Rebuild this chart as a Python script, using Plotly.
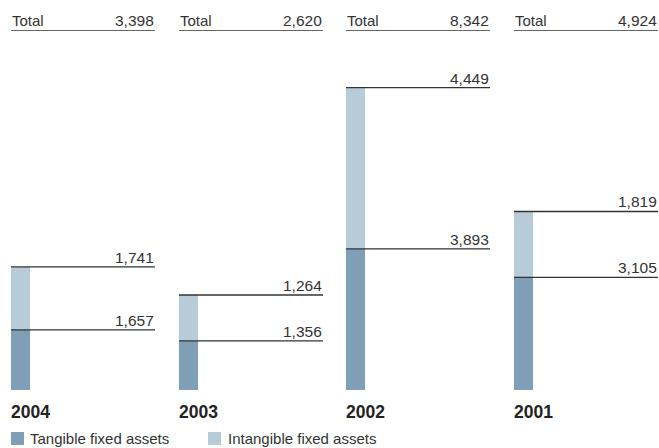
import plotly.graph_objects as go
from plotly.subplots import make_subplots

years = ["2004", "2003", "2002", "2001"]
tangible = [1657, 1356, 3893, 3105]
intangible = [1741, 1264, 4449, 1819]
totals = [3398, 2620, 8342, 4924]
series_names = ["Tangible fixed assets", "Intangible fixed assets"]

C_TAN = "#7f9fb6"
C_INT = "#b7cbd8"
C_LINE = "#333333"
FONT = "Liberation Sans, Arial, sans-serif"

W, H = 659, 448
top_px, bottom_px = 30, 390
plot_h = bottom_px - top_px
y_top = 9930                      # value at the header rule
panel_left = [11, 179, 346, 514]
panel_w = 144
bar_w = 19

fig = make_subplots(rows=1, cols=4)

def fmt(v):
    return f"{v:,}"

for i, yr in enumerate(years):
    col = i + 1
    xa = "x" if i == 0 else f"x{col}"
    ya = "y" if i == 0 else f"y{col}"
    fig.add_trace(go.Bar(x=[bar_w / 2], y=[tangible[i]], width=bar_w,
                         marker=dict(color=C_TAN, line=dict(width=0)),
                         name=series_names[0], showlegend=False, hoverinfo="skip"),
                  row=1, col=col)
    fig.add_trace(go.Bar(x=[bar_w / 2], y=[intangible[i]], width=bar_w,
                         marker=dict(color=C_INT, line=dict(width=0)),
                         name=series_names[1], showlegend=False, hoverinfo="skip"),
                  row=1, col=col)
    x0 = panel_left[i] / W
    x1 = (panel_left[i] + panel_w) / W
    fig.update_xaxes(domain=[x0, x1], range=[0, panel_w], visible=False,
                     fixedrange=True, row=1, col=col)
    fig.update_yaxes(range=[0, y_top], visible=False, row=1, col=col)

    # rules at each stack level, labelled with the segment value
    levels = [(tangible[i], tangible[i]), (tangible[i] + intangible[i], intangible[i])]
    for yv, lab in levels:
        fig.add_shape(type="line", xref=xa, yref=ya, x0=0, x1=panel_w, y0=yv, y1=yv,
                      line=dict(color=C_LINE, width=1.3))
        fig.add_annotation(xref=xa, yref=ya, x=panel_w, y=yv, text=fmt(lab),
                           showarrow=False, xanchor="right", yanchor="bottom",
                           yshift=-1, xshift=1,
                           font=dict(size=15.5, color=C_LINE, family=FONT))

    # header rule with total
    fig.add_shape(type="line", xref=xa, yref=ya, x0=0, x1=panel_w, y0=y_top, y1=y_top,
                  line=dict(color=C_LINE, width=1.3))
    fig.add_annotation(xref=xa, yref=ya, x=0, y=y_top, text="Total", showarrow=False,
                       xanchor="left", yanchor="bottom", yshift=-1, xshift=-1,
                       font=dict(size=15, color=C_LINE, family=FONT))
    fig.add_annotation(xref=xa, yref=ya, x=panel_w, y=y_top, text=fmt(totals[i]),
                       showarrow=False, xanchor="right", yanchor="bottom", yshift=-1,
                       xshift=1, font=dict(size=15.5, color=C_LINE, family=FONT))
    # year label
    fig.add_annotation(xref=xa, yref=ya, x=0, y=0, text=f"<b>{yr}</b>", showarrow=False,
                       xanchor="left", yanchor="top", yshift=-10, xshift=-2,
                       font=dict(size=17.5, color="#222222", family=FONT))

# legend row (swatch + label), positioned in paper space below the panels
def py(px):
    return (bottom_px - px) / plot_h

legend_items = [(11, 30, C_TAN, series_names[0]), (208, 228, C_INT, series_names[1])]
for sx, tx, c, name in legend_items:
    fig.add_shape(type="rect", xref="paper", yref="paper",
                  x0=sx / W, x1=(sx + 13) / W, y0=py(432), y1=py(445),
                  fillcolor=c, line=dict(width=0))
    fig.add_annotation(xref="paper", yref="paper", x=tx / W, y=py(438.5), text=name,
                       showarrow=False, xanchor="left", yanchor="middle", xshift=-2,
                       font=dict(size=15, color=C_LINE, family=FONT))

fig.update_layout(
    width=W, height=H,
    margin=dict(l=0, r=0, t=top_px, b=H - bottom_px, pad=0),
    barmode="stack", bargap=0,
    plot_bgcolor="white", paper_bgcolor="white",
    font=dict(family=FONT, color=C_LINE, size=14),
    showlegend=False,
)

fig.write_html("out.html")
